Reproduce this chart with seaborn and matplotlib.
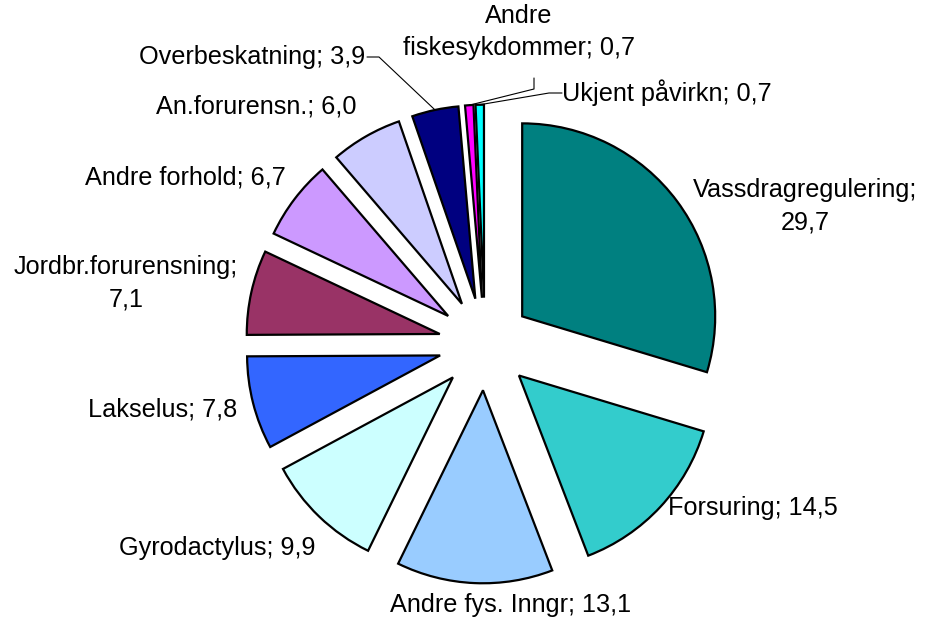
import numpy as np
import matplotlib
matplotlib.use("Agg")
import matplotlib.pyplot as plt
import seaborn as sns

# ---- data ----
categories = ["Vassdragregulering", "Forsuring", "Andre fys. Inngr", "Gyrodactylus",
              "Lakselus", "Jordbr.forurensning", "Andre forhold", "An.forurensn.",
              "Overbeskatning", "Andre fiskesykdommer", "Ukjent påvirkn"]
values = [29.7, 14.5, 13.1, 9.9, 7.8, 7.1, 6.7, 6.0, 3.9, 0.7, 0.7]
value_labels = ["29,7", "14,5", "13,1", "9,9", "7,8", "7,1", "6,7", "6,0", "3,9", "0,7", "0,7"]
colors = ["#008080", "#33CCCC", "#99CCFF", "#CCFFFF", "#3366FF", "#993366",
          "#CC99FF", "#CCCCFF", "#000080", "#FF00FF", "#00FFFF"]

# label texts (with line breaks as in the reference)
label_texts = ["Vassdragregulering;\n29,7", "Forsuring; 14,5", "Andre fys. Inngr; 13,1",
               "Gyrodactylus; 9,9", "Lakselus; 7,8", "Jordbr.forurensning;\n7,1",
               "Andre forhold; 6,7", "An.forurensn.; 6,0", "Overbeskatning; 3,9",
               "Andre\nfiskesykdommer; 0,7", "Ukjent påvirkn; 0,7"]

# ---- layout (pixels in a 925x623 canvas) ----
W, H = 925, 623
CX, CY, R = 485, 344, 193
label_px = [(805, 206), (753, 508), (511, 605), (217, 548), (163, 410), (126, 283),
            (185, 178), (256, 107), (252, 57), (519, 32), (667, 93)]

sns.set_theme(style="white")
plt.rcParams["font.family"] = ["Liberation Sans", "DejaVu Sans"]

fig = plt.figure(figsize=(W / 100, H / 100), dpi=100)
ax = fig.add_axes([0, 0, 1, 1])

wedges, _ = ax.pie(values, colors=colors, startangle=90, counterclock=False,
                   explode=[0.24] * len(values), radius=1,
                   wedgeprops=dict(edgecolor="black", linewidth=1.6))

ax.set_xlim(-CX / R, (W - CX) / R)
ax.set_ylim(-(H - CY) / R, CY / R)
ax.set_aspect("equal", adjustable="box")
ax.axis("off")


def px2d(px, py):
    return (px - CX) / R, (CY - py) / R


fs = 18.2
for txt, (px, py) in zip(label_texts, label_px):
    x, y = px2d(px, py)
    ax.text(x, y, txt, ha="center", va="center", fontsize=fs, color="black",
            linespacing=1.45)


def outer_mid(w):
    th = np.deg2rad((w.theta1 + w.theta2) / 2)
    cx, cy = w.center
    return cx + w.r * np.cos(th), cy + w.r * np.sin(th)


# leader lines for the small slices
leaders = {
    8: [(367, 57), (379, 57)],
    9: [(534, 78), (534, 89)],
    10: [(562, 93), (549, 93)],
}
for i, pts in leaders.items():
    xs = [px2d(*p)[0] for p in pts]
    ys = [px2d(*p)[1] for p in pts]
    ex, ey = outer_mid(wedges[i])
    xs.append(ex)
    ys.append(ey)
    ax.plot(xs, ys, color="black", linewidth=0.8)

fig.savefig("out.png", dpi=100, facecolor="white")
